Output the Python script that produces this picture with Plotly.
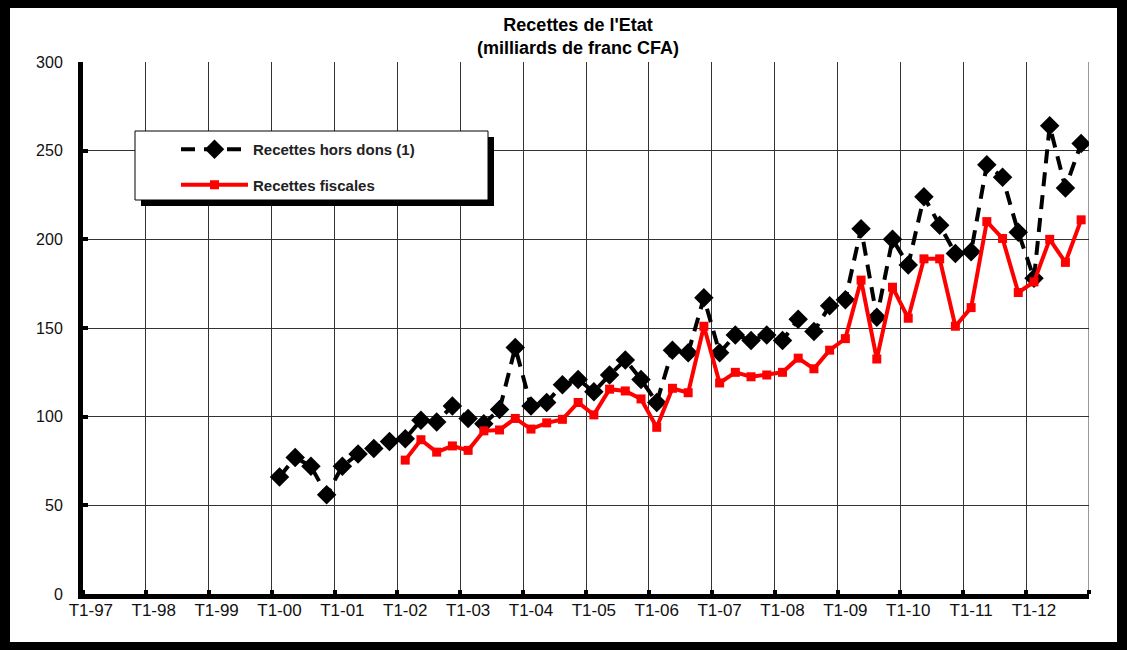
import plotly.graph_objects as go

# Trimestres T1-97 ... T4-12
years = ['97', '98', '99', '00', '01', '02', '03', '04',
         '05', '06', '07', '08', '09', '10', '11', '12']
year_labels = ['T1-' + y for y in years]
quarters = ['T%d-%s' % (q, y) for y in years for q in range(1, 5)]

# Recettes hors dons (1), a partir de T1-00
recettes_hors_dons = [
    66, 77, 72, 56,
    72, 79, 82, 86,
    87.5, 98, 97, 106,
    99, 96, 104, 139,
    106, 108, 118, 121,
    114, 123.5, 132, 121,
    108, 137.5, 136, 167,
    136, 146, 143, 146,
    143, 155, 148, 162.5,
    166, 206, 156, 200,
    185.5, 224, 208, 192,
    193, 242, 235, 204,
    178, 264, 229, 254,
]

# Recettes fiscales, a partir de T1-02
recettes_fiscales = [
    75.5, 87, 80, 83.5,
    81, 92, 92.5, 99,
    93, 96.5, 98.5, 108,
    101, 115.5, 114.5, 110,
    94, 116, 113.5, 151,
    119, 125, 122.5, 123.5,
    125, 133, 127, 137.5,
    144, 177, 132.5, 173,
    155.5, 189, 189, 151,
    161.5, 210, 200.5, 170,
    176, 200, 187, 211,
]

idx = list(range(len(quarters)))
hd = [None] * (len(quarters) - len(recettes_hors_dons)) + recettes_hors_dons
rf = [None] * (len(quarters) - len(recettes_fiscales)) + recettes_fiscales

# la page a une marge de 8px autour de la figure
OFF = 8
W, H = 1127 - OFF, 650 - OFF
ml, mt = 83 - OFF, 62 - OFF
pw, ph = 1006, 532
mr, mb = W - ml - pw, H - mt - ph

# conversion pixels écran -> coordonnées "paper"
def sx(p):
    return (p - OFF - ml) / pw

def sy(p):
    return (OFF + mt + ph - p) / ph

FONT = 'Arial, Liberation Sans, sans-serif'

fig = go.Figure()

fig.add_trace(go.Scatter(
    x=idx, y=hd, name='Recettes hors dons (1)',
    mode='lines+markers', text=quarters, legendgroup='a',
    line=dict(color='black', width=4, dash='14px,9px'),
    marker=dict(symbol='diamond', size=15, color='black'),
))

fig.add_trace(go.Scatter(
    x=idx, y=rf, name='Recettes fiscales',
    mode='lines+markers', text=quarters, legendgroup='b',
    line=dict(color='#ff0000', width=4),
    marker=dict(symbol='square', size=9, color='#ff0000'),
))

shapes = [
    # bord droit de la zone de tracé
    dict(type='line', xref='x', yref='y', x0=len(quarters) - 0.5, x1=len(quarters) - 0.5,
         y0=0, y1=300, line=dict(color='#333', width=1), layer='below'),
    # ombre + cadre de la légende
    dict(type='rect', xref='paper', yref='paper',
         x0=sx(141), x1=sx(494), y0=sy(206), y1=sy(137),
         fillcolor='black', line=dict(width=0)),
    dict(type='rect', xref='paper', yref='paper',
         x0=sx(135), x1=sx(488), y0=sy(200), y1=sy(131),
         fillcolor='white', line=dict(color='black', width=1)),
    # cadre noir extérieur
    dict(type='rect', xref='paper', yref='paper',
         x0=sx(1117), x1=sx(1130), y0=sy(655), y1=sy(0),
         fillcolor='black', line=dict(width=0)),
    dict(type='rect', xref='paper', yref='paper',
         x0=sx(0), x1=sx(1130), y0=sy(655), y1=sy(642),
         fillcolor='black', line=dict(width=0)),
    dict(type='rect', xref='paper', yref='paper',
         x0=sx(0), x1=sx(10), y0=sy(655), y1=sy(0),
         fillcolor='black', line=dict(width=0)),
]

fig.update_layout(
    width=W, height=H,
    margin=dict(l=ml, r=mr, t=mt, b=mb),
    paper_bgcolor='white', plot_bgcolor='white',
    font=dict(family=FONT, color='#111', size=16),
    annotations=[dict(
        text="<b>Recettes de l'Etat<br>(milliards de franc CFA)</b>",
        xref='paper', yref='paper', x=sx(578), y=sy(37),
        xanchor='center', yanchor='middle', showarrow=False,
        font=dict(size=18, color='black', family=FONT),
    )],
    xaxis=dict(
        range=[-0.5, len(quarters) - 0.5],
        tickmode='array', tickvals=idx[::4], ticktext=year_labels,
        tickfont=dict(size=17),
        showgrid=False, zeroline=False,
        showline=True, linecolor='black', linewidth=5,
        ticks='', ticklabelstandoff=-3,
        minor=dict(tickmode='linear', tick0=-0.5, dtick=4,
                   showgrid=True, gridcolor='#333', gridwidth=1,
                   ticks='inside', ticklen=4, tickwidth=4, tickcolor='black'),
    ),
    yaxis=dict(
        range=[0, 300], tickmode='linear', tick0=0, dtick=50,
        showgrid=True, gridcolor='#333', gridwidth=1, zeroline=False,
        showline=True, linecolor='black', linewidth=5,
        ticks='inside', ticklen=5, tickwidth=4, tickcolor='black',
        ticklabelstandoff=12,
    ),
    legend=dict(
        x=sx(176), y=sy(133), xanchor='left', yanchor='top',
        bgcolor='rgba(0,0,0,0)', borderwidth=0,
        font=dict(size=15, color='#222', family=FONT, weight='bold'),
        itemwidth=67, traceorder='grouped', tracegroupgap=13,
    ),
    shapes=shapes,
    showlegend=True,
)

fig.write_html('out.html', post_script="document.body.style.background='black';")
